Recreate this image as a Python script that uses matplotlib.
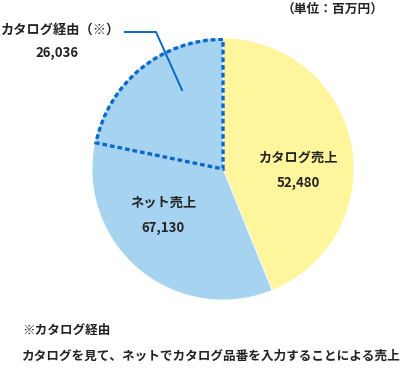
import matplotlib
matplotlib.use("Agg")
import matplotlib.pyplot as plt
from matplotlib.patches import Wedge

plt.rcParams["font.family"] = ["Noto Sans CJK JP", "DejaVu Sans"]

labels = ["カタログ売上", "ネット売上"]
values = [52480, 67130]
colors = ["#FFF59D", "#A5D3F0"]

sub_label = "カタログ経由（※）"
sub_value = 26036

unit_text = "（単位：百万円）"
note_title = "※カタログ経由"
note_body = "カタログを見て、ネットでカタログ品番を入力することによる売上"

W, H = 405, 368
fig = plt.figure(figsize=(W / 100, H / 100), dpi=100)

cx, cy, r = 223, 169, 131
ax = fig.add_axes([(cx - r) / W, (H - cy - r) / H, 2 * r / W, 2 * r / H])
wedges, _ = ax.pie(values, colors=colors, startangle=90, counterclock=False,
                   radius=1, wedgeprops=dict(linewidth=0.6, edgecolor="white"))
ax.set_xlim(-1, 1)
ax.set_ylim(-1, 1)
ax.axis("off")

total = sum(values)
sub_deg = sub_value / total * 360
dashed = Wedge((0, 0), 0.99, 90, 90 + sub_deg, fill=False,
               edgecolor="#0A68C8", linewidth=2.4,
               linestyle=(0, (1.4, 0.9)), zorder=5)
ax.add_patch(dashed)


def fx(px):
    return px / W


def fy(py):
    return 1 - py / H


txt = dict(fontweight="bold", color="#222222", ha="center", va="center")
fig.text(fx(299), fy(158), labels[0], fontsize=9.5, **txt)
fig.text(fx(298), fy(183), f"{values[0]:,}", fontsize=9.5, **txt)
fig.text(fx(163), fy(203), labels[1], fontsize=9.5, **txt)
fig.text(fx(163), fy(228), f"{values[1]:,}", fontsize=9.5, **txt)

fig.text(fx(1), fy(30), sub_label, fontsize=9.5, fontweight="bold",
         color="#222222", ha="left", va="center")
fig.text(fx(57), fy(53), f"{sub_value:,}", fontsize=9.5, **txt)
fig.add_artist(plt.Line2D([fx(125), fx(156), fx(182)], [fy(32), fy(32), fy(90)],
                          color="#0A68C8", linewidth=1.4))

fig.text(fx(333), fy(9), unit_text, fontsize=9.2, **txt)
fig.text(fx(22), fy(330), note_title, fontsize=9.1, fontweight="bold",
         color="#222222", ha="left", va="center")
fig.text(fx(22), fy(356), note_body, fontsize=9.1, fontweight="bold",
         color="#222222", ha="left", va="center")

fig.savefig("out.png", dpi=100)
